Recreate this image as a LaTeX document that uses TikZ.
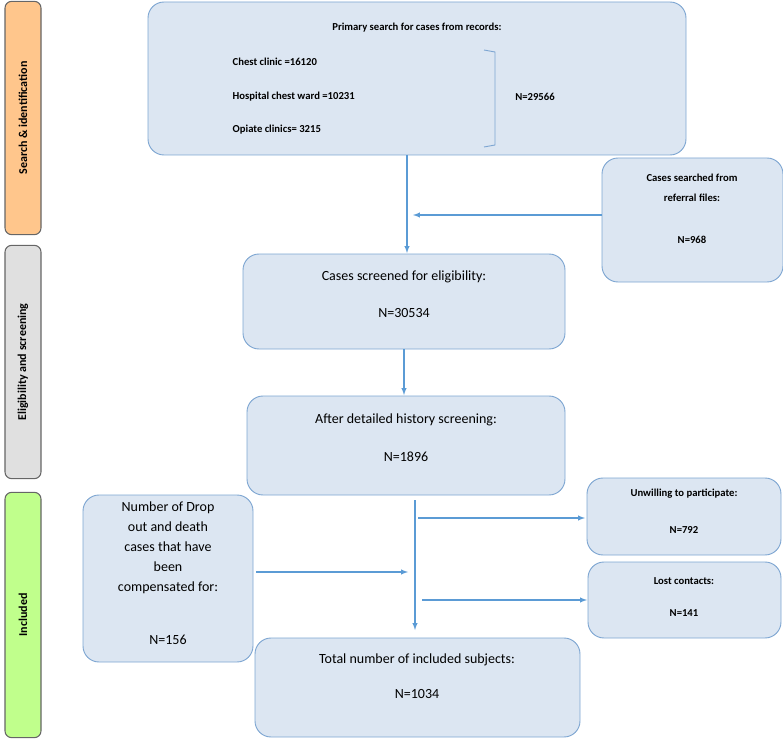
\documentclass[tikz,border=0pt]{standalone}
\usepackage{fontspec}
\setmainfont{Carlito}
\usetikzlibrary{positioning}
\definecolor{boxfill}{HTML}{DCE6F2}
\definecolor{boxline}{HTML}{7EA6D2}
\definecolor{arrowblue}{HTML}{5B9BD5}
\tikzset{
  stage/.style={draw=black!60, rounded corners=5pt, line width=0.8pt, rotate=90, minimum height=27pt, font=\bfseries\fontsize{9}{11}\selectfont},
  flow/.style={draw=boxline, fill=boxfill, rounded corners=12pt, line width=0.7pt},
  txt/.style={font=\bfseries\fontsize{8}{10}\selectfont},
  big/.style={font=\fontsize{10.5}{12}\selectfont},
  arr/.style={arrowblue, line width=0.8pt, ->, >=latex}
}
\begin{document}
\begin{tikzpicture}[x=0.75pt,y=-0.75pt]
  \useasboundingbox (0,0) rectangle (783,742);
  % stages on the left
  \node[stage, fill=orange!45, minimum width=175pt] (search) at (23,118) {Search \& identification};
  \node[stage, fill=black!12, minimum width=175pt] (elig) at (23,362) {Eligibility and screening};
  \node[stage, fill=green!40!lime!45, minimum width=184pt] (incl) at (23,615) {Included};

  % boxes
  \draw[flow] (148,2) rectangle (686,155);
  \node[txt] (primary) at (417,28) {Primary search for cases from records:};
  \node[txt, anchor=west] (chest) at (228,62) {Chest clinic =16120};
  \node[txt, anchor=west] (hosp) at (228,97) {Hospital chest ward =10231};
  \node[txt, anchor=west] (opiate) at (228,130) {Opiate clinics= 3215};
  \draw[boxline, line width=0.7pt] (484,50) -- (495,52) -- (495,145) -- (484,147);
  \node[txt] (total1) at (535,97) {N=29566};

  \draw[flow] (602,158) rectangle (783,282);
  \node[txt, align=center] (referral) at (692,188) {Cases searched from\\[5pt]referral files:};
  \node[txt] (nref) at (692,240) {N=968};

  \draw[flow] (243,254) rectangle (565,349);
  \node[big] (screened) at (404,277) {Cases screened for eligibility:};
  \node[big] (nscr) at (404,313) {N=30534};

  \draw[flow] (247,396) rectangle (565,495);
  \node[big] (history) at (406,420) {After detailed history screening:};
  \node[big] (nhist) at (406,457) {N=1896};

  \draw[flow] (587,478) rectangle (781,555);
  \node[txt] (unwill) at (684,494) {Unwilling to participate:};
  \node[txt] (nunw) at (684,530) {N=792};

  \draw[flow] (588,562) rectangle (781,638);
  \node[txt] (lost) at (684,581) {Lost contacts:};
  \node[txt] (nlost) at (684,613) {N=141};

  \draw[flow] (83,495) rectangle (253,662);
  \node[big, align=center] (drop) at (168,548) {Number of Drop\\[3pt]out and death\\[3pt]cases that have\\[3pt]been\\[3pt]compensated for:};
  \node[big] (ndrop) at (168,640) {N=156};

  \draw[flow] (255,638) rectangle (580,737);
  \node[big] (included) at (417,660) {Total number of included subjects:};
  \node[big] (nincl) at (417,694) {N=1034};

  % connectors
  \coordinate (a1) at (407,155);
  \coordinate (a2) at (407,253);
  \coordinate (r1) at (602,215);
  \coordinate (r2) at (413,215);
  \coordinate (b1) at (404,349);
  \coordinate (b2) at (404,395);
  \coordinate (c1) at (415,500);
  \coordinate (c2) at (415,630);
  \coordinate (u1) at (418,518);
  \coordinate (u2) at (585,518);
  \coordinate (l1) at (422,600);
  \coordinate (l2) at (587,600);
  \coordinate (d1) at (256,572);
  \coordinate (d2) at (408,572);
  \draw[arr] (a1) -- (a2);
  \draw[arr] (r1) -- (r2);
  \draw[arr] (b1) -- (b2);
  \draw[arr] (c1) -- (c2);
  \draw[arr] (u1) -- (u2);
  \draw[arr] (l1) -- (l2);
  \draw[arr] (d1) -- (d2);
\end{tikzpicture}
\end{document}
